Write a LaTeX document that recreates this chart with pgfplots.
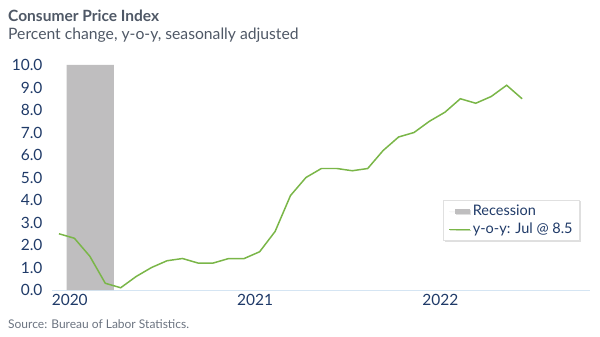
\documentclass[border=0pt]{standalone}
\usepackage{pgfplots}
\pgfplotsset{compat=1.18}
\usepackage{fontspec}
\setmainfont{Lato}
\usetikzlibrary{shadows}
\definecolor{titlegray}{HTML}{4F5866}
\definecolor{tickblue}{HTML}{1F3A68}
\definecolor{recgray}{HTML}{BFBEBF}
\definecolor{linegreen}{HTML}{7AB648}
\definecolor{axisblue}{HTML}{D5E5F3}
\definecolor{srcgray}{HTML}{6B7380}
\begin{document}
\begin{tikzpicture}[x=1bp,y=1bp]
\path[use as bounding box] (0,0) rectangle (600,336);
\node[anchor=base west, inner sep=0, text=titlegray, font=\fontsize{15.5bp}{18bp}\selectfont\bfseries] at (8,315) {Consumer Price Index};
\node[anchor=base west, inner sep=0, text=titlegray, font=\fontsize{15.7bp}{18bp}\selectfont] at (8,297) {Percent change, y-o-y, seasonally adjusted};
\node[anchor=base west, inner sep=0, text=srcgray, font=\fontsize{12bp}{14bp}\selectfont] at (8,8) {Source: Bureau of Labor Statistics.};
\begin{axis}[
  at={(52bp,46bp)}, anchor=south west,
  scale only axis, width=538bp, height=225bp,
  xmin=-0.45, xmax=34.4, ymin=0, ymax=10,
  axis x line*=bottom, axis y line*=left,
  x axis line style={draw=axisblue, line width=0.8pt, -},
  y axis line style={draw=none},
  major tick length=0pt,
  xtick={0.7,12.7,24.7}, xticklabels={2020,2021,2022},
  ytick={0,1,...,10},
  yticklabel={\pgfmathprintnumber[fixed,fixed zerofill,precision=1]{\tick}},
  /pgf/number format/assume math mode=true,
  ticklabel style={text=tickblue},
  yticklabel style={font=\fontsize{15.5bp}{17bp}\selectfont, anchor=east, xshift=-6bp},
  xticklabel style={font=\fontsize{15.5bp}{17bp}\selectfont, yshift=-1bp},
  clip=false,
  legend style={at={(0.727,0.40)}, anchor=north west, draw=black!12, fill=white,
    drop shadow={shadow xshift=1.2bp, shadow yshift=-1.2bp, opacity=0.25},
    font=\fontsize{14.5bp}{16bp}\selectfont, text=tickblue,
    inner xsep=5bp, inner ysep=3bp, row sep=2bp, cells={anchor=west}},
]
\addplot[fill=recgray, draw=none, area legend,
  legend image code/.code={\path (0bp,0bp) -- (21bp,0bp); \fill[recgray] (6bp,-2.5bp) rectangle (21bp,2.5bp);}]
  coordinates {(0.5,0) (0.5,10) (3.55,10) (3.55,0)} \closedcycle;
\addlegendentry{Recession}
\addplot[linegreen, line width=1.5pt, mark=none,
  legend image code/.code={\path (0bp,0bp) -- (21bp,0bp); \draw[linegreen, line width=1pt] (6bp,0bp) -- (21bp,0bp);}]
  coordinates {
  (0,2.5) (1,2.3) (2,1.5) (3,0.3) (4,0.1) (5,0.6) (6,1.0) (7,1.3) (8,1.4) (9,1.2) (10,1.2) (11,1.4)
  (12,1.4) (13,1.7) (14,2.6) (15,4.2) (16,5.0) (17,5.4) (18,5.4) (19,5.3) (20,5.4) (21,6.2) (22,6.8) (23,7.0)
  (24,7.5) (25,7.9) (26,8.5) (27,8.3) (28,8.6) (29,9.1) (30,8.5)};
\addlegendentry{y-o-y: Jul @ 8.5}
\end{axis}
\end{tikzpicture}
\end{document}
